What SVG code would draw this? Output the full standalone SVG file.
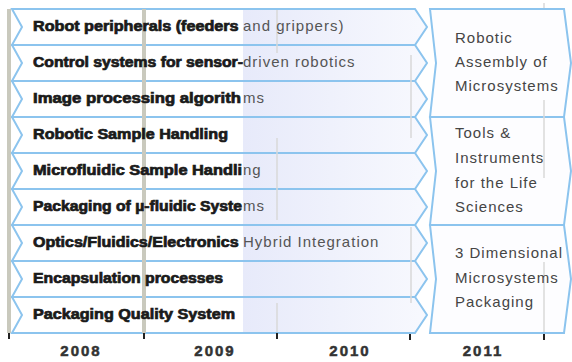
<svg xmlns="http://www.w3.org/2000/svg" width="572" height="362" viewBox="0 0 572 362">
<defs>
<linearGradient id="rowfill" gradientUnits="userSpaceOnUse" x1="0" y1="0" x2="430" y2="0">
<stop offset="0" stop-color="#ffffff"/>
<stop offset="0.565" stop-color="#ffffff"/>
<stop offset="0.565" stop-color="#e7eafa"/>
<stop offset="1" stop-color="#f8f9fe"/>
</linearGradient>
<style>
.row{fill:url(#rowfill);stroke:#8cc4ee;stroke-width:2;stroke-linejoin:miter}
.big{fill:#fdfdff;stroke:#8cc4ee;stroke-width:2}
.bar{fill:#c9c9bd}
.grid{stroke:#d9d9d9;stroke-width:1.5}
.tick{stroke:#222;stroke-width:2}
.t{font-family:"Liberation Sans",Arial,sans-serif;font-size:14px}
.b{font-weight:bold;fill:#1a1a1a;stroke:#1a1a1a;stroke-width:0.7}
.n{font-weight:normal;fill:#555;font-size:15px;letter-spacing:1px;stroke:none}
.r{font-family:"Liberation Sans",Arial,sans-serif;font-size:15px;fill:#454545;letter-spacing:1px}
.yr{font-family:"Liberation Sans",Arial,sans-serif;font-size:15px;font-weight:bold;fill:#333;letter-spacing:2px;text-anchor:middle;stroke:#333;stroke-width:0.5}
</style>
</defs>
<rect width="572" height="362" fill="#ffffff"/>

<g id="rows">
<g id="row1"><path class="row" d="M12,9 L415,9 L427,27 L415,45 L12,45 L22,27 Z"/></g>
<g id="row2"><path class="row" d="M12,45 L415,45 L427,63 L415,81 L12,81 L22,63 Z"/></g>
<g id="row3"><path class="row" d="M12,81 L415,81 L427,99 L415,117 L12,117 L22,99 Z"/></g>
<g id="row4"><path class="row" d="M12,117 L415,117 L427,135 L415,153 L12,153 L22,135 Z"/></g>
<g id="row5"><path class="row" d="M12,153 L415,153 L427,171 L415,189 L12,189 L22,171 Z"/></g>
<g id="row6"><path class="row" d="M12,189 L415,189 L427,207 L415,225 L12,225 L22,207 Z"/></g>
<g id="row7"><path class="row" d="M12,225 L415,225 L427,243 L415,261 L12,261 L22,243 Z"/></g>
<g id="row8"><path class="row" d="M12,261 L415,261 L427,279 L415,297 L12,297 L22,279 Z"/></g>
<g id="row9"><path class="row" d="M12,297 L415,297 L427,315 L415,333 L12,333 L22,315 Z"/></g>
</g>

<g id="groups">
<g id="big1"><path class="big" d="M430,9 L564,9 L571,63 L564,117 L430,117 L436,63 Z"/></g>
<g id="big2"><path class="big" d="M430,117 L564,117 L571,171 L564,225 L430,225 L436,171 Z"/></g>
<g id="big3"><path class="big" d="M430,225 L564,225 L571,279 L564,333 L430,333 L436,279 Z"/></g>
</g>

<g id="axis">
<rect class="bar" x="7" y="9" width="4" height="324"/>
<rect class="bar" x="142" y="9" width="4" height="324"/>
<line class="grid" x1="277" y1="10" x2="277" y2="53"/>
<line class="grid" x1="277" y1="138" x2="277" y2="220"/>
<line class="grid" x1="277" y1="303" x2="277" y2="332"/>
<line class="grid" x1="411" y1="55" x2="411" y2="138"/>
<line class="grid" x1="411" y1="227" x2="411" y2="303"/>
<line class="grid" x1="544" y1="3" x2="544" y2="8"/>
<line class="grid" x1="544" y1="100" x2="544" y2="178"/>
<line class="grid" x1="544" y1="262" x2="544" y2="332"/>
<line class="tick" x1="9" y1="333" x2="9" y2="339"/>
<line class="tick" x1="144" y1="333" x2="144" y2="339"/>
<line class="tick" x1="277" y1="333" x2="277" y2="339"/>
<line class="tick" x1="410" y1="334" x2="410" y2="340"/>
<line class="tick" x1="544" y1="334" x2="544" y2="340"/>
</g>

<g id="row-labels">
<text class="t" x="33" y="31"><tspan class="b" textLength="210" lengthAdjust="spacingAndGlyphs">Robot peripherals (feeders </tspan><tspan class="n" x="243">and grippers)</tspan></text>
<text class="t" x="33" y="67"><tspan class="b" textLength="210" lengthAdjust="spacingAndGlyphs">Control systems for sensor-</tspan><tspan class="n" x="243">driven robotics</tspan></text>
<text class="t" x="33" y="103"><tspan class="b" textLength="208" lengthAdjust="spacingAndGlyphs">Image processing algorith</tspan><tspan class="n" x="243">ms</tspan></text>
<text class="t" x="33" y="139"><tspan class="b" textLength="195" lengthAdjust="spacingAndGlyphs">Robotic Sample Handling</tspan></text>
<text class="t" x="33" y="175"><tspan class="b" textLength="209" lengthAdjust="spacingAndGlyphs">Microfluidic Sample Handli</tspan><tspan class="n" x="243">ng</tspan></text>
<text class="t" x="33" y="211"><tspan class="b" textLength="209" lengthAdjust="spacingAndGlyphs">Packaging of µ-fluidic Syste</tspan><tspan class="n" x="243">ms</tspan></text>
<text class="t" x="33" y="247"><tspan class="b" textLength="210" lengthAdjust="spacingAndGlyphs">Optics/Fluidics/Electronics </tspan><tspan class="n" x="243">Hybrid Integration</tspan></text>
<text class="t" x="33" y="283"><tspan class="b" textLength="190" lengthAdjust="spacingAndGlyphs">Encapsulation processes</tspan></text>
<text class="t" x="33" y="319"><tspan class="b" textLength="202" lengthAdjust="spacingAndGlyphs">Packaging Quality System</tspan></text>
</g>

<g id="group-labels">
<text class="r" x="455" y="43">Robotic</text>
<text class="r" x="455" y="67">Assembly of</text>
<text class="r" x="455" y="91">Microsystems</text>
<text class="r" x="455" y="138">Tools &amp;</text>
<text class="r" x="455" y="163">Instruments</text>
<text class="r" x="455" y="188">for the Life</text>
<text class="r" x="455" y="212">Sciences</text>
<text class="r" x="455" y="258">3 Dimensional</text>
<text class="r" x="455" y="283">Microsystems</text>
<text class="r" x="455" y="307">Packaging</text>
</g>

<g id="years">
<text class="yr" x="81" y="356">2008</text>
<text class="yr" x="215" y="356">2009</text>
<text class="yr" x="350" y="356">2010</text>
<text class="yr" x="483" y="356">2011</text>
</g>
</svg>
